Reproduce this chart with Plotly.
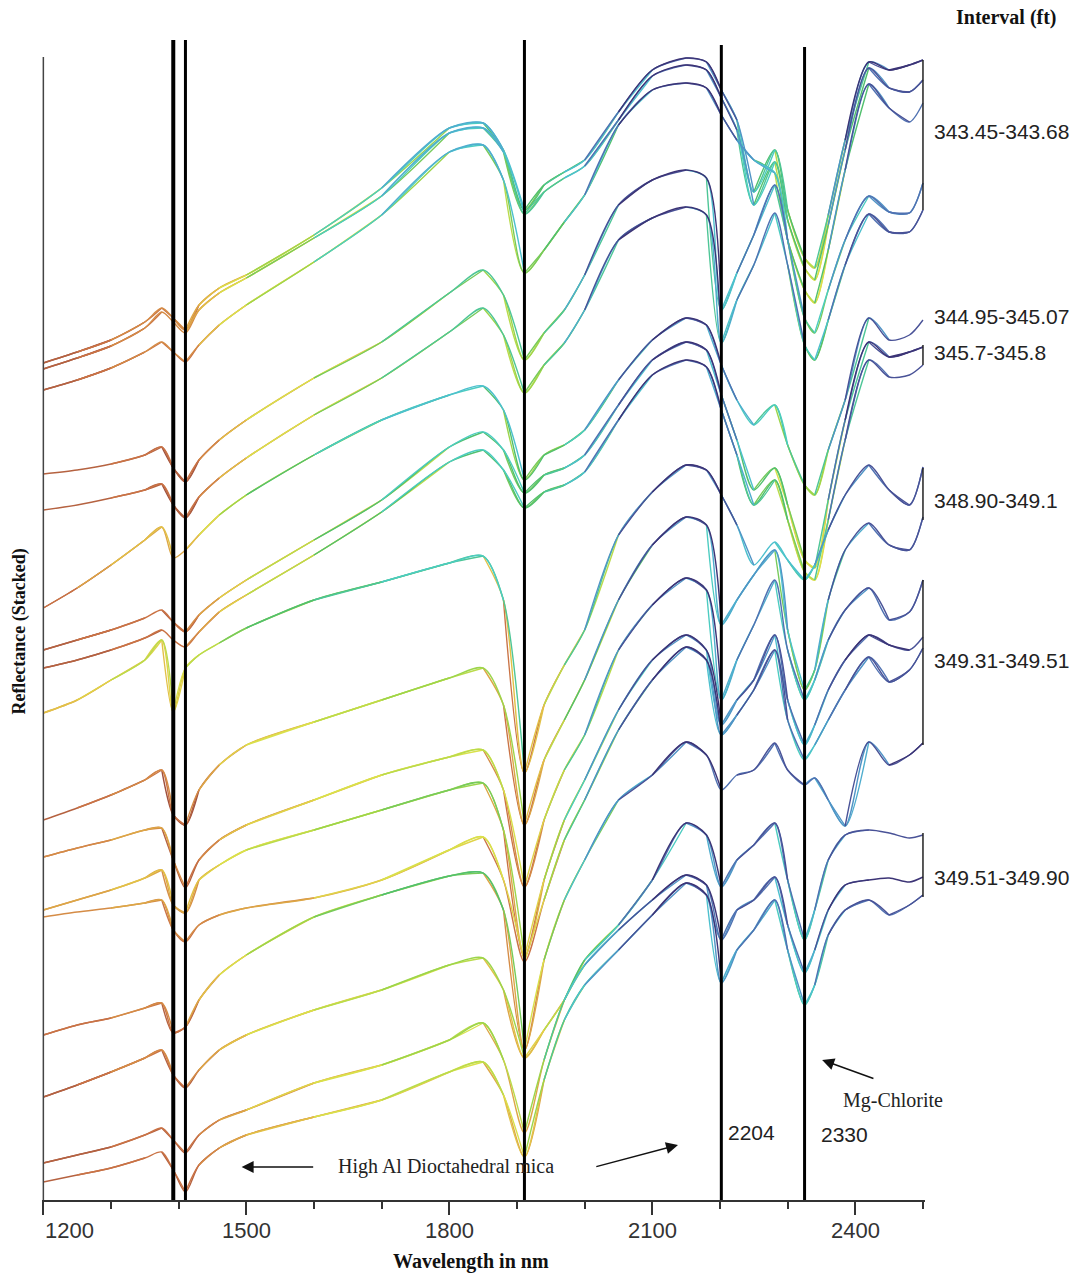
import plotly.graph_objects as go

# ---------------- data ----------------
wavelength_nm = [1200, 1250, 1300, 1350, 1375, 1392, 1410, 1430, 1460, 1500, 1600, 1700,
                 1800, 1850, 1880, 1911, 1940, 1970, 2000, 2050, 2100, 2150, 2180, 2202,
                 2225, 2250, 2281, 2300, 2325, 2340, 2360, 2385, 2420, 2450, 2480, 2500]

# stacked reflectance (arbitrary offset units), top spectrum first
# interval 343.45-343.68
spec_01 = [837,848,860,878,892,882,870,895,912,925,965,1012,1072,1077,1050,990,1015,1028,1040,1088,1130,1142,1138,1110,1080,1008,1050,990,942,932,985,1060,1138,1130,1135,1140]
spec_02 = [831,842,854,872,888,878,867,890,907,922,962,1004,1067,1072,1048,986,1008,1022,1034,1080,1124,1135,1130,1102,1070,995,1038,980,932,920,975,1050,1132,1112,1108,1120]
spec_03 = [810,820,832,848,858,848,838,855,875,895,938,985,1048,1055,1020,927,950,978,1005,1075,1110,1117,1112,1085,1060,1040,1027,960,910,897,950,1030,1116,1092,1078,1097]
spec_04 = [726,730,736,745,753,732,718,740,760,780,822,858,907,930,905,840,867,890,925,995,1020,1030,1022,890,927,965,1015,960,882,867,910,960,1004,988,987,1017]
spec_05 = [690,695,702,710,716,695,682,703,722,742,785,822,868,892,865,807,835,857,890,960,982,993,985,857,900,935,987,935,855,840,880,935,986,968,968,990]
# 344.95-345.07 and 345.7-345.8
spec_06 = [592,612,635,660,673,642,650,665,685,705,745,780,805,814,790,720,745,755,770,820,860,882,875,835,800,775,795,755,715,705,750,800,882,860,865,880]
spec_07 = [550,560,570,582,590,578,568,585,602,620,660,700,753,768,750,707,725,732,745,795,840,858,850,805,760,710,732,695,640,632,700,780,858,843,848,853]
spec_08 = [532,540,550,562,570,560,553,568,588,605,645,688,738,750,730,692,708,715,728,780,825,840,833,790,745,695,720,680,628,620,680,760,840,823,825,835]
# 348.90-349.1
spec_09 = [487,500,520,540,560,488,532,545,557,572,600,618,637,644,600,427,495,535,570,665,708,735,730,705,675,635,658,640,620,635,670,705,735,710,695,733]
spec_10 = [380,392,405,420,430,385,375,410,435,455,478,500,522,532,495,375,440,480,520,600,655,683,675,575,600,625,650,570,510,530,600,650,677,655,650,683]
# 349.31-349.51
spec_11 = [343,352,360,370,372,340,312,340,360,375,400,425,443,450,410,313,380,430,465,550,595,622,610,500,540,575,620,550,500,520,560,590,612,580,588,620]
spec_12 = [290,300,310,322,330,295,287,320,335,350,370,390,410,417,370,243,320,380,420,490,540,565,550,475,500,520,565,500,455,475,510,540,565,555,550,563]
spec_13 = [283,288,292,297,300,270,258,275,285,292,302,320,350,363,320,238,300,360,400,470,520,553,540,465,485,510,550,480,440,455,480,510,543,518,530,552]
spec_14 = [165,175,182,192,197,167,173,200,225,245,283,305,324,327,290,150,240,300,340,400,425,458,445,410,425,430,457,430,415,422,400,374,458,435,445,457]
# 349.51-349.90
spec_15 = [103,115,128,142,150,125,112,130,150,165,190,210,235,242,210,142,170,200,240,275,320,377,365,313,340,355,377,320,260,290,340,365,370,367,362,365]
spec_16 = [37,45,53,65,72,60,47,65,80,90,117,135,160,177,140,67,140,200,235,270,300,325,315,260,290,300,323,275,227,250,290,315,320,322,318,323]
spec_17 = [18,25,32,42,48,30,8,35,52,65,83,100,128,138,105,43,120,180,215,250,285,317,305,217,250,270,300,250,195,215,265,290,300,285,295,305]

spectra = [spec_01, spec_02, spec_03, spec_04, spec_05, spec_06, spec_07, spec_08, spec_09,
           spec_10, spec_11, spec_12, spec_13, spec_14, spec_15, spec_16, spec_17]

feature_lines_nm = [1392, 1410, 1911, 2202, 2325]
major_ticks = [1200, 1500, 1800, 2100, 2400]
minor_ticks = [1300, 1400, 1600, 1700, 1900, 2000, 2200, 2300, 2500]
tick_labels = ["1200", "1500", "1800", "2100", "2400"]

interval_labels = ["343.45-343.68", "344.95-345.07", "345.7-345.8",
                   "348.90-349.1", "349.31-349.51", "349.51-349.90"]
interval_label_y = [1069, 884, 848, 700, 540, 323]
bracket_ranges = [(990, 1140), (835, 855), (680, 732), (455, 620), (303, 367)]

# ---------------- colour map (low reflectance -> red, high -> navy) ----------------
stops = [(0.00, (160, 80, 60)), (0.12, (208, 120, 70)), (0.25, (226, 188, 70)),
         (0.36, (222, 226, 75)), (0.48, (152, 212, 75)), (0.58, (80, 192, 110)),
         (0.70, (75, 206, 206)), (0.82, (80, 162, 206)), (0.92, (80, 98, 168)),
         (1.00, (60, 52, 118))]


def cmap(f):
    f = min(max(f, 0.0), 1.0)
    for (f0, c0), (f1, c1) in zip(stops[:-1], stops[1:]):
        if f <= f1:
            t = (f - f0) / (f1 - f0) if f1 > f0 else 0
            return "rgb(%d,%d,%d)" % tuple(round(a + (b - a) * t) for a, b in zip(c0, c1))
    return "rgb(%d,%d,%d)" % stops[-1][1]


# runs of equal colour band, each extended by one neighbouring reading on both sides
# so that the spline keeps its tangent across colour changes
NB = 20
n = len(wavelength_nm)
bins = {i: ([], []) for i in range(NB)}
for spec in spectra:
    lo, hi = min(spec), max(spec)
    seg_bins = []
    for i in range(n - 1):
        f = ((spec[i] + spec[i + 1]) / 2 - lo) / (hi - lo)
        seg_bins.append(int(round(f * (NB - 1))))
    i = 0
    while i < len(seg_bins):
        j = i
        while j + 1 < len(seg_bins) and seg_bins[j + 1] == seg_bins[i]:
            j += 1
        a, b = max(i - 1, 0), min(j + 3, n)
        xs, ys = bins[seg_bins[i]]
        xs += wavelength_nm[a:b] + [None]
        ys += spec[a:b] + [None]
        i = j + 1

fig = go.Figure()
for b in range(NB):
    xs, ys = bins[b]
    if not xs:
        continue
    fig.add_trace(go.Scatter(x=xs, y=ys, mode="lines", showlegend=False, hoverinfo="skip",
                             connectgaps=False,
                             line=dict(color=cmap(b / (NB - 1)), width=1.4,
                                       shape="spline", smoothing=0.8)))

# ---------------- shapes ----------------
shapes = []
line_w = [4, 3, 3, 3, 3]
line_top = [1160, 1160, 1160, 1155, 1153]
for wl, w, top in zip(feature_lines_nm, line_w, line_top):
    shapes.append(dict(type="line", xref="x", yref="y", x0=wl, x1=wl, y0=0, y1=top,
                       line=dict(color="black", width=w)))
shapes.append(dict(type="line", xref="x", yref="y", x0=1200, x1=1200, y0=0, y1=1143,
                   line=dict(color="#444", width=1.5)))
for y0, y1 in bracket_ranges:
    shapes.append(dict(type="line", xref="x", yref="y", x0=2500, x1=2500, y0=y0, y1=y1,
                       line=dict(color="#222", width=1.5)))

# ---------------- annotations ----------------
ann = []
for tv, tl in zip(major_ticks, tick_labels):
    ann.append(dict(x=tv, xref="x", y=-0.0259, yref="paper", text=tl, showarrow=False,
                    xanchor="left" if tv == 1200 else "center", yanchor="middle",
                    font=dict(family="Liberation Sans", size=22, color="#333")))
for t, yv in zip(interval_labels, interval_label_y):
    ann.append(dict(x=1.008, xref="paper", y=yv, yref="y", text=t, showarrow=False,
                    xanchor="left", yanchor="middle",
                    font=dict(family="Liberation Sans", size=21, color="#222")))
ann.append(dict(x=1.092, xref="paper", y=1.019, yref="paper", text="<b>Interval (ft)</b>",
                showarrow=False, xanchor="center", yanchor="middle",
                font=dict(family="Liberation Serif", size=20, color="#111")))
ann.append(dict(x=0.4857, xref="paper", y=-0.0534, yref="paper", text="<b>Wavelength in nm</b>",
                showarrow=False, xanchor="center", yanchor="middle",
                font=dict(family="Liberation Serif", size=20, color="#111")))
ann.append(dict(x=-0.0253, xref="paper", y=0.4897, yref="paper", text="<b>Reflectance (Stacked)</b>",
                showarrow=False, xanchor="center", yanchor="middle", textangle=-90,
                font=dict(family="Liberation Serif", size=18, color="#111")))
ann.append(dict(x=1795, xref="x", y=34, yref="y", text="High Al Dioctahedral mica",
                showarrow=False, xanchor="center", yanchor="middle",
                font=dict(family="Liberation Serif", size=20, color="#222")))
ann.append(dict(x=2455, xref="x", y=100, yref="y", text="Mg-Chlorite",
                showarrow=False, xanchor="center", yanchor="middle",
                font=dict(family="Liberation Serif", size=20, color="#222")))
ann.append(dict(x=2209, xref="x", y=68, yref="y", text="2204", showarrow=False,
                xanchor="left", yanchor="middle",
                font=dict(family="Liberation Sans", size=21, color="#222")))
ann.append(dict(x=2346, xref="x", y=66, yref="y", text="2330", showarrow=False,
                xanchor="left", yanchor="middle",
                font=dict(family="Liberation Sans", size=21, color="#222")))
arrows = [((1493, 33), (1601, 33)), ((2138, 55), (2015, 33)), ((2351, 140), (2429, 121))]
for (hx, hy), (tx, ty) in arrows:
    ann.append(dict(x=hx, y=hy, xref="x", yref="y", ax=tx, ay=ty, axref="x", ayref="y",
                    text="", showarrow=True, arrowhead=2, arrowsize=1.6, arrowwidth=1.5,
                    arrowcolor="#111", standoff=0, startstandoff=0))

fig.update_layout(
    width=1073, height=1279,
    margin=dict(l=42, r=148, t=40, b=79),
    paper_bgcolor="white", plot_bgcolor="white",
    shapes=shapes, annotations=ann,
    xaxis=dict(range=[1198, 2503], showline=True, linecolor="#333", linewidth=1.5,
               ticks="outside", tickvals=major_ticks, ticklen=13, tickwidth=1.5,
               tickcolor="#333", showticklabels=False, showgrid=False, zeroline=False,
               minor=dict(tickvals=minor_ticks, ticks="outside", ticklen=7, tickwidth=1.5,
                          tickcolor="#333", showgrid=False)),
    yaxis=dict(range=[0, 1160], visible=False, showgrid=False, zeroline=False),
)

fig.write_html("out.html")
